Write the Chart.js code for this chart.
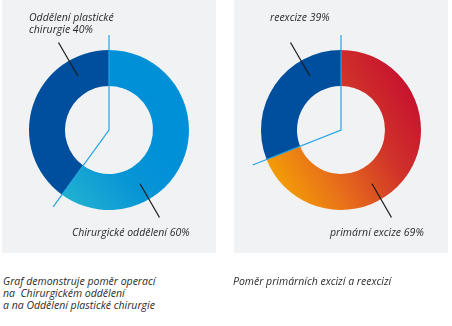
<!DOCTYPE html>
<html>
<head>
<meta charset="utf-8">
<script src="https://cdn.jsdelivr.net/npm/chart.js@4"></script>
<style>
  body { margin: 0; background: #fff; width: 452px; height: 326px; position: relative; overflow: hidden;
         font-family: "Open Sans", "Noto Sans", sans-serif; font-style: italic; font-size: 10.5px; color: #2b2b2b; }
  .panel { position: absolute; top: 0; width: 214px; height: 253px; background: #f1f2f4; }
  .lbl { position: absolute; line-height: 12px; white-space: nowrap; }
  canvas { position: absolute; }
</style>
</head>
<body>
<div class="panel" style="left:2px"></div>
<div class="panel" style="left:234px"></div>

<canvas id="graf1" width="240" height="240" style="left:-11px; top:10px"></canvas>
<canvas id="graf2" width="240" height="240" style="left:221px; top:10px"></canvas>

<div class="lbl" style="left:29px; top:11px">Oddělení plastické<br>chirurgie 40%</div>
<div class="lbl" style="left:72px; top:226px">Chirurgické oddělení 60%</div>
<div class="lbl" style="left:270px; top:11px">reexcize 39%</div>
<div class="lbl" style="left:330px; top:226px">primární excize 69%</div>

<div class="lbl" style="left:3px; top:275px">Graf demonstruje poměr operací<br>na&nbsp; Chirurgickém oddělení<br>a na Oddělení plastické chirurgie</div>
<div class="lbl" style="left:233px; top:275px">Poměr primárních excizí a reexcizí</div>

<script>
// data
const oddeleni = ["Chirurgické oddělení", "Oddělení plastické chirurgie"];
const oddeleniHodnoty = [60, 40];
const excize = ["primární excize", "reexcize"];
const excizeHodnoty = [69, 31];

const tmaveModra = "#004f9e";

function modryGradient(chart) {
    const a = chart.chartArea;
    if (!a) return "#0090d8";
    const g = chart.ctx.createLinearGradient(a.left + 20, a.bottom - 15, a.left + 110, a.top + 70);
    g.addColorStop(0, "#24b6cf");
    g.addColorStop(0.6, "#0895d6");
    g.addColorStop(1, "#0090d8");
    return g;
}

function cervenyGradient(chart) {
    const a = chart.chartArea;
    if (!a) return "#c8102e";
    const g = chart.ctx.createLinearGradient(a.left + 4, a.top + 140, a.left + 159, a.top + 50);
    g.addColorStop(0, "#f6ab00");
    g.addColorStop(0.35, "#e8701a");
    g.addColorStop(0.7, "#d0322a");
    g.addColorStop(1, "#c6112f");
    return g;
}

// cary: modra podel hranice segmentu, cerne odkazy k popiskum
const cary = {
    id: "cary",
    afterDatasetsDraw(chart) {
        const arc = chart.getDatasetMeta(0).data[1];
        const ctx = chart.ctx;
        const x = arc.x, y = arc.y;
        const delka = arc.outerRadius + 15;
        ctx.save();
        ctx.strokeStyle = "#22a4e0";
        ctx.lineWidth = 1.2;
        ctx.beginPath();
        ctx.moveTo(x + Math.cos(arc.startAngle) * delka, y + Math.sin(arc.startAngle) * delka);
        ctx.lineTo(x, y);
        ctx.lineTo(x + Math.cos(arc.endAngle) * delka, y + Math.sin(arc.endAngle) * delka);
        ctx.stroke();

        ctx.strokeStyle = "#1a1a1a";
        ctx.lineWidth = 1.2;
        const stred = (arc.innerRadius + arc.outerRadius) / 2;
        [240, 60].forEach(function (uhel) {
            const u = uhel * Math.PI / 180;
            ctx.beginPath();
            ctx.moveTo(x + Math.cos(u) * stred, y + Math.sin(u) * stred);
            ctx.lineTo(x + Math.cos(u) * (arc.outerRadius + 21), y + Math.sin(u) * (arc.outerRadius + 21));
            ctx.stroke();
        });
        ctx.restore();
    }
};

function vytvorGraf(id, labels, hodnoty, gradient) {
    const config = {
        type: "doughnut",
        data: {
            labels: labels,
            datasets: [{
                data: hodnoty,
                backgroundColor: function (context) {
                    return context.dataIndex === 0 ? gradient(context.chart) : tmaveModra;
                },
                borderWidth: 0,
                hoverOffset: 0
            }]
        },
        options: {
            responsive: false,
            animation: false,
            cutout: "55%",
            layout: { padding: 40 },
            events: [],
            plugins: { legend: { display: false }, tooltip: { enabled: false } }
        },
        plugins: [cary]
    };
    return new Chart(document.getElementById(id), config);
}

vytvorGraf("graf1", oddeleni, oddeleniHodnoty, modryGradient);
vytvorGraf("graf2", excize, excizeHodnoty, cervenyGradient);
</script>
</body>
</html>
